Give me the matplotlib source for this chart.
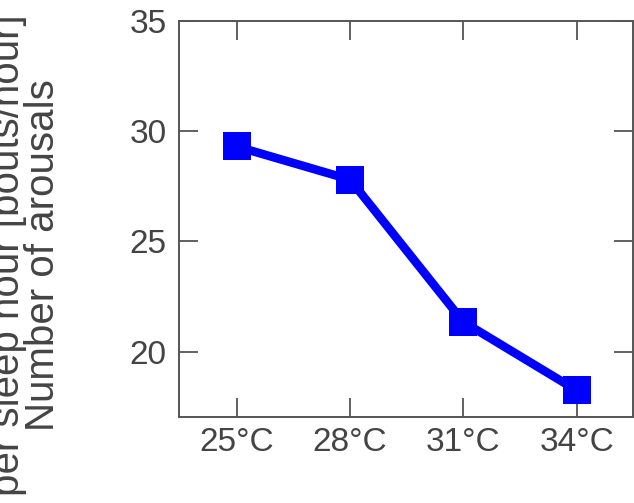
import matplotlib
matplotlib.use("Agg")
import matplotlib.pyplot as plt

plt.rcParams['font.family'] = ['Liberation Sans', 'DejaVu Sans']

categories = ["25°C", "28°C", "31°C", "34°C"]
arousals = [29.3, 27.8, 21.35, 18.25]
yticks = [20, 25, 30, 35]

fig = plt.figure(figsize=(6.34, 5.03), dpi=100)
ax = fig.add_axes([179.3/634, 1-417.3/503, (632.7-179.3)/634, (417.3-20.7)/503])

x = list(range(len(categories)))
ax.plot(x, arousals, color='#0000ff', lw=6.2, marker='s', ms=19.5,
        markeredgewidth=0, solid_joinstyle='miter', zorder=3)

ax.set_xlim(-0.507, 3.494)
ax.set_ylim(17.03, 35)
ax.set_xticks(x)
ax.set_xticklabels(categories)
ax.set_yticks(yticks)

grey = '#555555'
for s in ax.spines.values():
    s.set_color(grey)
    s.set_linewidth(1.4)
ax.tick_params(direction='in', length=13.5, width=1.3, color=grey,
               labelcolor='#444444', labelsize=24,
               top=True, right=True)
ax.tick_params(axis='x', pad=7)
ax.tick_params(axis='y', pad=9)

fig.text(62/634, 1-255/503, "Number of arousals", rotation=90,
         ha='right', va='center', fontsize=29, color='#444444')
fig.text(27/634, 1-255/503, "per sleep hour [bouts/hour]", rotation=90,
         ha='right', va='center', fontsize=29, color='#444444')

fig.savefig("out.png", dpi=100)
